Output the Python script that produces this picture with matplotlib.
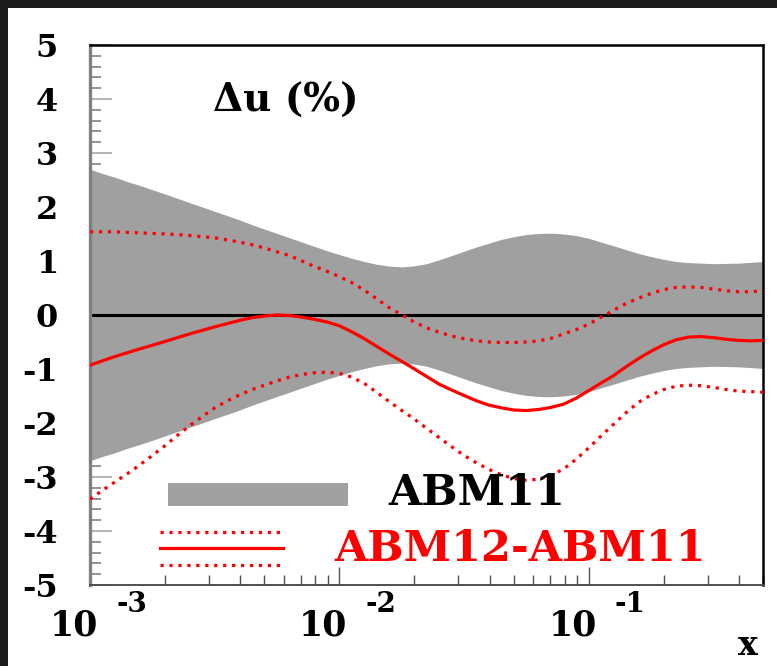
import matplotlib
matplotlib.use("Agg")
import matplotlib.pyplot as plt
from matplotlib.patches import Rectangle

plt.rcParams['axes.unicode_minus'] = False

x = [0.001, 0.00112, 0.00126, 0.00141, 0.00158, 0.00178, 0.002, 0.00224, 0.00251, 0.00282,
     0.00316, 0.00355, 0.00398, 0.00447, 0.00501, 0.00562, 0.00631, 0.00708, 0.00794, 0.00891,
     0.01, 0.0112, 0.0126, 0.0141, 0.0158, 0.0178, 0.02, 0.0224, 0.0251, 0.0282,
     0.0316, 0.0355, 0.0398, 0.0447, 0.0501, 0.0562, 0.0631, 0.0708, 0.0794, 0.0891,
     0.1, 0.112, 0.126, 0.141, 0.158, 0.178, 0.2, 0.224, 0.251, 0.282,
     0.316, 0.355, 0.398, 0.447, 0.5]

# ABM11 uncertainty band (+/- %)
abm11_err = [2.70, 2.62, 2.55, 2.47, 2.40, 2.32, 2.24, 2.16, 2.08, 2.00,
             1.92, 1.84, 1.76, 1.67, 1.59, 1.51, 1.43, 1.35, 1.27, 1.19,
             1.12, 1.05, 0.99, 0.94, 0.905, 0.89, 0.91, 0.95, 1.02, 1.10,
             1.18, 1.26, 1.33, 1.40, 1.45, 1.49, 1.51, 1.515, 1.50, 1.47,
             1.42, 1.35, 1.28, 1.21, 1.14, 1.08, 1.03, 0.99, 0.97, 0.96,
             0.95, 0.955, 0.96, 0.975, 0.99]

# ABM12-ABM11 central value (%)
diff = [-0.93, -0.85, -0.77, -0.70, -0.63, -0.56, -0.49, -0.42, -0.35, -0.285,
        -0.22, -0.16, -0.10, -0.05, -0.02, 0.0, -0.01, -0.04, -0.08, -0.13,
        -0.20, -0.31, -0.44, -0.58, -0.72, -0.86, -1.00, -1.14, -1.28, -1.39,
        -1.49, -1.59, -1.67, -1.72, -1.76, -1.77, -1.75, -1.71, -1.65, -1.54,
        -1.40, -1.26, -1.12, -0.96, -0.81, -0.67, -0.55, -0.46, -0.41, -0.40,
        -0.42, -0.45, -0.47, -0.48, -0.47]

# upper / lower edge of the ABM12-ABM11 uncertainty (%)
diff_up = [1.54, 1.54, 1.54, 1.53, 1.52, 1.51, 1.50, 1.49, 1.47, 1.45,
           1.43, 1.39, 1.35, 1.30, 1.24, 1.17, 1.10, 1.00, 0.90, 0.81,
           0.71, 0.60, 0.46, 0.30, 0.14, 0.00, -0.13, -0.24, -0.32, -0.39,
           -0.44, -0.48, -0.50, -0.51, -0.51, -0.50, -0.48, -0.43, -0.35, -0.27,
           -0.17, -0.04, 0.09, 0.21, 0.31, 0.40, 0.47, 0.51, 0.52, 0.51,
           0.48, 0.45, 0.43, 0.43, 0.45]
diff_lo = [-3.41, -3.25, -3.09, -2.94, -2.78, -2.60, -2.42, -2.23, -2.05, -1.88,
           -1.72, -1.59, -1.48, -1.38, -1.30, -1.22, -1.15, -1.10, -1.07, -1.06,
           -1.08, -1.15, -1.27, -1.43, -1.60, -1.77, -1.93, -2.10, -2.27, -2.44,
           -2.60, -2.74, -2.86, -2.96, -3.03, -3.06, -3.04, -2.97, -2.85, -2.67,
           -2.46, -2.24, -2.02, -1.81, -1.62, -1.48, -1.38, -1.32, -1.30, -1.31,
           -1.34, -1.38, -1.41, -1.42, -1.43]

yticks = [-5, -4, -3, -2, -1, 0, 1, 2, 3, 4, 5]
decades = [0.001, 0.01, 0.1]
exps = ['-3', '-2', '-1']

font = 'DejaVu Serif'
band_col = '#a0a0a0'
red = '#ff0000'
dots = (0, (1, 1.8))

fig = plt.figure(figsize=(7.7705, 6.6605), dpi=100)
fig.patch.set_facecolor('white')
# white page, dark strip on the left and on top only
dark = '#1c1c1c'
fig.add_artist(Rectangle((0, 0), 1, 1, transform=fig.transFigure,
                         facecolor='white', edgecolor='none', zorder=-1))
fig.add_artist(Rectangle((0, 0), 8 / 777, 1, transform=fig.transFigure,
                         facecolor=dark, edgecolor='none', zorder=0))
fig.add_artist(Rectangle((0, 1 - 8 / 666), 1, 8 / 666, transform=fig.transFigure,
                         facecolor=dark, edgecolor='none', zorder=0))

ax = fig.add_axes([90 / 777, 81 / 666, 673 / 777, 540 / 666])
ax.set_xscale('log')
ax.set_xlim(0.001, 0.5)
ax.set_ylim(-5, 5)
ax.set_axisbelow(True)

lo = [-e for e in abm11_err]
ax.fill_between(x, lo, abm11_err, color=band_col, linewidth=0, zorder=1)
ax.axhline(0, color='black', lw=2.2, zorder=2)
ax.plot(x, diff, color=red, lw=2.3, zorder=3)
ax.plot(x, diff_up, color=red, lw=2.3, linestyle=dots, zorder=3)
ax.plot(x, diff_lo, color=red, lw=2.3, linestyle=dots, zorder=3)

# spines
ax.spines['left'].set_color('#808080')
ax.spines['left'].set_linewidth(2.4)
ax.spines['bottom'].set_color('#505050')
ax.spines['bottom'].set_linewidth(1.4)
for s in ['top', 'right']:
    ax.spines[s].set_color('black')
    ax.spines[s].set_linewidth(1.8)

# y ticks
ax.set_yticks(yticks)
ax.set_yticks([v / 5 for v in range(-25, 26)], minor=True)
ax.tick_params(axis='y', which='major', direction='in', length=16, width=1.2,
               color='#a8a8a8', pad=23, labelsize=23)
ax.tick_params(axis='y', which='minor', direction='in', length=8, width=1.2, color='#808080')
for lab in ax.get_yticklabels():
    lab.set_fontfamily(font)
    lab.set_fontweight('bold')

# x ticks, labels drawn by hand ROOT style
ax.tick_params(axis='x', which='major', direction='in', length=13, width=1.0,
               color='#505050', labelbottom=False)
ax.tick_params(axis='x', which='minor', direction='in', length=7, width=1.0,
               color='#505050', labelbottom=False)
for d, e in zip(decades, exps):
    ax.annotate('10', xy=(d, 0), xycoords=('data', 'axes fraction'),
                xytext=(8, -50), textcoords='offset pixels', ha='right', va='baseline',
                fontsize=25, fontweight='bold', family=font, annotation_clip=False)
    ax.annotate(e, xy=(d, 0), xycoords=('data', 'axes fraction'),
                xytext=(26, -27), textcoords='offset pixels', ha='left', va='baseline',
                fontsize=20, fontweight='bold', family=font, annotation_clip=False)

fig.text(758 / 777, 1 - 655 / 666, 'x', ha='right', va='baseline', fontsize=24,
         fontweight='bold', family=font)

# title inside
ax.text(0.183, 0.876, '\u0394u (%)', transform=ax.transAxes, ha='left', va='baseline',
        fontsize=28, fontweight='bold', family=font)

# legend by hand
ax.add_patch(Rectangle((0.116, 0.146), 0.267, 0.043, transform=ax.transAxes,
                       facecolor=band_col, edgecolor='none', zorder=4))
ax.text(0.443, 0.148, 'ABM11', transform=ax.transAxes, ha='left', va='baseline',
        fontsize=31, fontweight='bold', family=font, zorder=5)
for yy, ls in [(0.098, dots), (0.0685, '-'), (0.037, dots)]:
    ax.plot([0.104, 0.287], [yy, yy], transform=ax.transAxes, color=red, lw=2.3,
            linestyle=ls, zorder=5, clip_on=False)
ax.text(0.3626, 0.0444, 'ABM12-ABM11', transform=ax.transAxes, ha='left', va='baseline',
        fontsize=31, fontweight='bold', family=font, color=red, zorder=5)

fig.savefig('out.png', dpi=100, facecolor='white')
